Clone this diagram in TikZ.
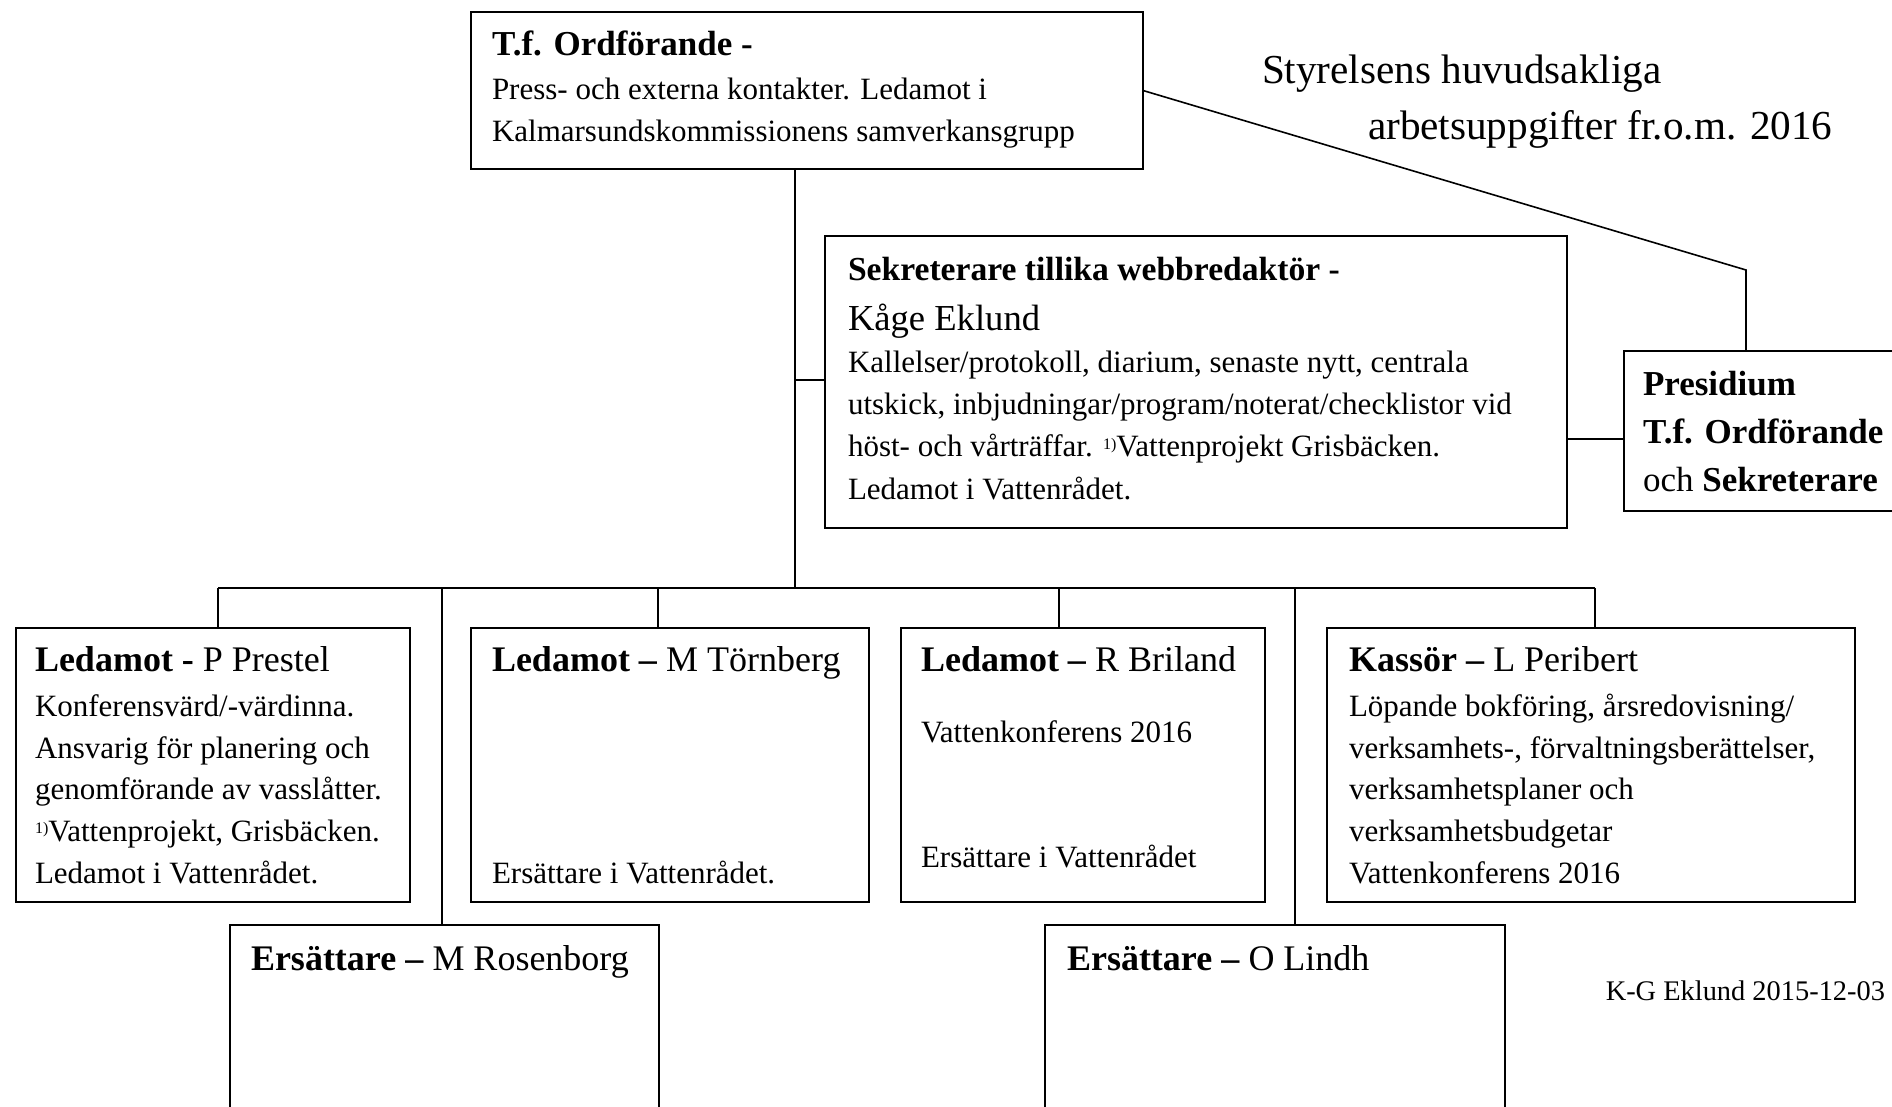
\documentclass[tikz,border=0pt]{standalone}
\usepackage{fontspec}
\setmainfont{Liberation Serif}
\newcommand\orgbox[5]{\node[box, minimum width={(#4-#2)*0.5pt}, minimum height={(#5-#3)*0.5pt}] (#1) at (#2,#3) {};}
\newcommand\fnmark{\raisebox{0.55ex}{\fontsize{8}{8}\selectfont 1)}}
\begin{document}
\begin{tikzpicture}[x=0.5pt,y=-0.5pt,
  box/.style={draw, line width=1pt, inner sep=0pt, outer sep=0pt, anchor=north west},
  link/.style={line width=0.8pt},
  txt/.style={inner sep=0pt, outer sep=0pt, anchor=base west, font=\fontsize{15.5}{18}\selectfont},
  hd/.style={txt, font=\fontsize{18}{21}\selectfont},
]
\useasboundingbox (0,0) rectangle (1892,1107);

% boxes
\orgbox{ordf}{471}{12}{1143}{169}
\orgbox{sekr}{825}{236}{1567}{528}
\orgbox{pres}{1624}{351}{1910}{511}
\orgbox{prestel}{16}{628}{410}{902}
\orgbox{tornberg}{471}{628}{869}{902}
\orgbox{briland}{901}{628}{1265}{902}
\orgbox{peribert}{1327}{628}{1855}{902}
\orgbox{rosenborg}{230}{925}{659}{1120}
\orgbox{lindh}{1045}{925}{1505}{1120}

% connector coordinates
\coordinate (jbus) at (795,588);
\coordinate (jsek) at (795,380);
\coordinate (d1) at (218,588);
\coordinate (d5) at (442,588);
\coordinate (d2) at (658,588);
\coordinate (d3) at (1059,588);
\coordinate (d6) at (1295,588);
\coordinate (d4) at (1595,588);
\coordinate (bend) at (1746,270);
\coordinate (jpres) at (1567,439);

% connectors
\draw[link] (ordf.south -| jbus) -- (jbus);
\draw[link] (jsek) -- (jsek -| sekr.west);
\draw[link] (d1) -- (d4);
\draw[link] (d1) -- (d1 |- prestel.north);
\draw[link] (d2) -- (d2 |- tornberg.north);
\draw[link] (d3) -- (d3 |- briland.north);
\draw[link] (d4) -- (d4 |- peribert.north);
\draw[link] (d5) -- (d5 |- rosenborg.north);
\draw[link] (d6) -- (d6 |- lindh.north);
\draw[link] (ordf.east) -- (bend) -- (bend |- pres.north);
\draw[link] (jpres) -- (jpres -| pres.west);

% title and footer
\node[txt, font=\fontsize{20.6}{24}\selectfont] (title1) at (1262,84) {Styrelsens huvudsakliga};
\node[txt, font=\fontsize{20.6}{24}\selectfont] (title2) at (1368,140) {arbetsuppgifter fr.o.m. 2016};
\node[txt, anchor=base east, font=\fontsize{14.2}{17}\selectfont] (sign) at (1885,1000) {K-G Eklund 2015-12-03};

% top box
\node[hd, font=\fontsize{17.5}{21}\selectfont\bfseries] (ordf-h) at (492,56) {T.f. Ordförande -};
\node[txt] (ordf-1) at (492,100) {Press- och externa kontakter. Ledamot i};
\node[txt] (ordf-2) at (492,142) {Kalmarsundskommissionens samverkansgrupp};

% secretary box
\node[hd, font=\fontsize{16.8}{21}\selectfont\bfseries] (sekr-h) at (848,281) {Sekreterare tillika webbredaktör -};
\node[txt, font=\fontsize{18.3}{21}\selectfont] (sekr-n) at (848,331) {Kåge Eklund};
\node[txt] (sekr-1) at (848,373) {Kallelser/protokoll, diarium, senaste nytt, centrala};
\node[txt] (sekr-2) at (848,415) {utskick, inbjudningar/program/noterat/checklistor vid};
\node[txt] (sekr-3) at (848,457) {höst- och vårträffar. \fnmark Vattenprojekt Grisbäcken.};
\node[txt] (sekr-4) at (848,499) {Ledamot i Vattenrådet.};

% presidium
\node[hd, font=\fontsize{17.5}{21}\selectfont\bfseries] (pres-1) at (1643,396) {Presidium};
\node[hd, font=\fontsize{17.5}{21}\selectfont\bfseries] (pres-2) at (1643,444) {T.f. Ordförande};
\node[hd, font=\fontsize{17.5}{21}\selectfont] (pres-3) at (1643,491) {och \textbf{Sekreterare}};

% row boxes
\node[hd] (prestel-h) at (35,671) {\textbf{Ledamot -} P Prestel};
\node[txt] (prestel-1) at (35,716) {Konferensvärd/-värdinna.};
\node[txt] (prestel-2) at (35,758) {Ansvarig för planering och};
\node[txt] (prestel-3) at (35,799) {genomförande av vasslåtter.};
\node[txt] (prestel-4) at (35,841) {\fnmark Vattenprojekt, Grisbäcken.};
\node[txt] (prestel-5) at (35,883) {Ledamot i Vattenrådet.};

\node[hd] (tornberg-h) at (492,671) {\textbf{Ledamot –} M Törnberg};
\node[txt] (tornberg-1) at (492,883) {Ersättare i Vattenrådet.};

\node[hd] (briland-h) at (921,671) {\textbf{Ledamot –} R Briland};
\node[txt] (briland-1) at (921,742) {Vattenkonferens 2016};
\node[txt] (briland-2) at (921,867) {Ersättare i Vattenrådet};

\node[hd] (peribert-h) at (1349,671) {\textbf{Kassör –} L Peribert};
\node[txt] (peribert-1) at (1349,716) {Löpande bokföring, årsredovisning/};
\node[txt] (peribert-2) at (1349,758) {verksamhets-, förvaltningsberättelser,};
\node[txt] (peribert-3) at (1349,799) {verksamhetsplaner och};
\node[txt] (peribert-4) at (1349,841) {verksamhetsbudgetar};
\node[txt] (peribert-5) at (1349,883) {Vattenkonferens 2016};

\node[hd] (rosenborg-h) at (251,970) {\textbf{Ersättare –} M Rosenborg};
\node[hd] (lindh-h) at (1067,970) {\textbf{Ersättare –} O Lindh};
\end{tikzpicture}
\end{document}
